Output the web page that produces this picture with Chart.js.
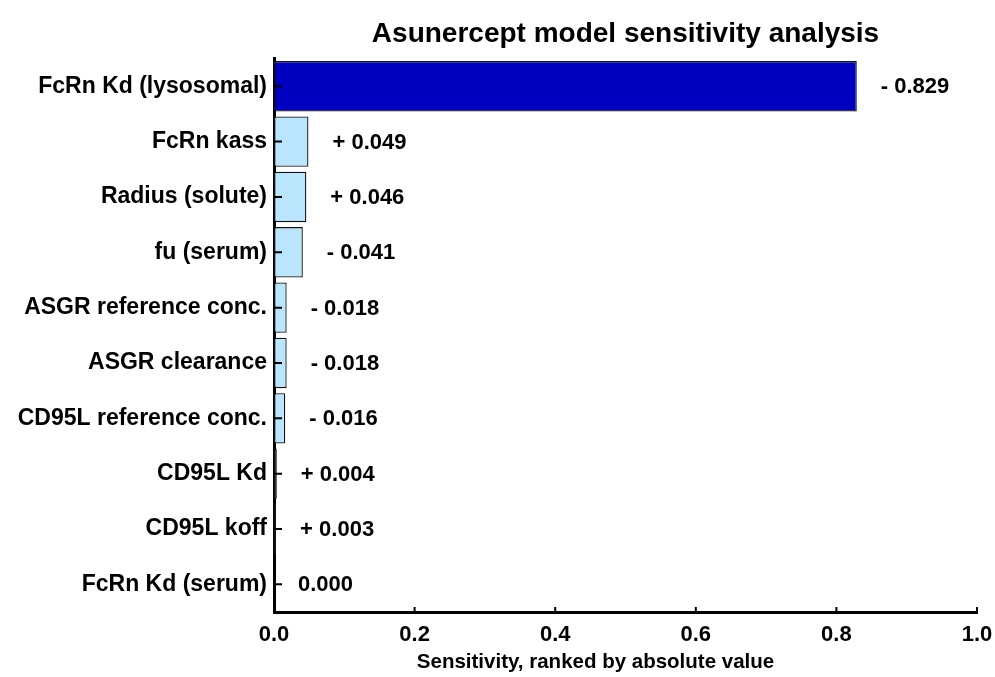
<!DOCTYPE html>
<html>
<head>
<meta charset="utf-8">
<title>Asunercept model sensitivity analysis</title>
<script src="https://cdn.jsdelivr.net/npm/chart.js@4.4.0/dist/chart.umd.min.js"></script>
<style>
  html, body { margin: 0; padding: 0; background: #fff; }
  #wrap { width: 995px; height: 677px; }
</style>
</head>
<body>
<div id="wrap"><canvas id="chart"></canvas></div>
<script>
// Data
const parameters = [
    'FcRn Kd (lysosomal)', 'FcRn kass', 'Radius (solute)', 'fu (serum)',
    'ASGR reference conc.', 'ASGR clearance', 'CD95L reference conc.',
    'CD95L Kd', 'CD95L koff', 'FcRn Kd (serum)'
];
const sensitivity = [-0.829, 0.049, 0.046, -0.041, -0.018, -0.018, -0.016, 0.004, 0.003, 0.000];
const xTicks = [0, 0.2, 0.4, 0.6, 0.8, 1.0];
const xTitle = 'Sensitivity, ranked by absolute value';

const FONT = "'Liberation Sans', Arial, sans-serif";

// bars are ranked by absolute value, the sign goes in the label
const magnitudes = sensitivity.map(v => Math.abs(v));
const barColors = magnitudes.map((v, i) => i === 0 ? '#0000C0' : '#B9E6FC');

function signedLabel(v) {
    if (v > 0) return '+ ' + v.toFixed(3);
    if (v < 0) return '- ' + Math.abs(v).toFixed(3);
    return v.toFixed(3);
}

// value labels to the right of each bar, plus the x axis title
const valueLabels = {
    id: 'valueLabels',
    afterDatasetsDraw(chart) {
        const ctx = chart.ctx;
        const x = chart.scales.x;
        const y = chart.scales.y;
        const area = chart.chartArea;
        ctx.save();
        ctx.font = 'bold 22px ' + FONT;
        ctx.fillStyle = '#000';
        ctx.textAlign = 'left';
        ctx.textBaseline = 'middle';
        sensitivity.forEach((v, i) => {
            ctx.fillText(signedLabel(v), x.getPixelForValue(Math.abs(v)) + 24, y.getPixelForValue(i) + 1);
        });
        // axis title sits a little left of the plot centre in the original
        ctx.font = 'bold 20.5px ' + FONT;
        ctx.textAlign = 'center';
        ctx.fillText(xTitle, (area.left + area.right) / 2 - 30, area.bottom + 50);
        ctx.restore();
    }
};

// small tick marks pointing into the plot
const innerTicks = {
    id: 'innerTicks',
    afterDraw(chart) {
        const ctx = chart.ctx;
        const x = chart.scales.x;
        const y = chart.scales.y;
        const area = chart.chartArea;
        ctx.save();
        ctx.strokeStyle = '#000';
        ctx.lineWidth = 2;
        ctx.beginPath();
        y.ticks.forEach((t, i) => {
            const py = y.getPixelForTick(i);
            ctx.moveTo(area.left, py);
            ctx.lineTo(area.left + 8, py);
        });
        xTicks.forEach(v => {
            const px = x.getPixelForValue(v);
            ctx.moveTo(px, area.bottom);
            ctx.lineTo(px, area.bottom - 5);
        });
        ctx.stroke();
        ctx.restore();
    }
};

const ctx = document.getElementById('chart').getContext('2d');
new Chart(ctx, {
    type: 'bar',
    data: {
        labels: parameters,
        datasets: [{
            data: magnitudes,
            backgroundColor: barColors,
            borderColor: '#111',
            borderWidth: 1.3,
            borderSkipped: false,
            categoryPercentage: 1.0,
            barPercentage: 0.91
        }]
    },
    options: {
        indexAxis: 'y',
        responsive: true,
        maintainAspectRatio: false,
        animation: false,
        layout: { padding: { left: 0, right: 18, top: 0, bottom: 0 } },
        plugins: {
            legend: { display: false },
            tooltip: { enabled: false },
            title: {
                display: true,
                fullSize: false,
                text: 'Asunercept model sensitivity analysis',
                color: '#000',
                font: { family: FONT, size: 28, weight: 'bold' },
                padding: { top: 17, bottom: 8 }
            }
        },
        scales: {
            x: {
                min: 0,
                max: 1,
                afterBuildTicks(scale) {
                    scale.ticks = xTicks.map(v => ({ value: v }));
                },
                afterFit(scale) {
                    scale.height = 65;
                    scale.paddingRight = 0;
                },
                grid: { display: false, drawTicks: false },
                border: { display: true, color: '#000', width: 3 },
                ticks: {
                    color: '#000',
                    padding: 10,
                    font: { family: FONT, size: 22, weight: 'bold' },
                    callback: v => Number(v).toFixed(1)
                }
            },
            y: {
                afterFit(scale) { scale.width = 274; },
                grid: { display: false, drawTicks: false },
                border: { display: true, color: '#000', width: 3 },
                ticks: {
                    color: '#000',
                    padding: 7,
                    font: { family: FONT, size: 23, weight: 'bold' }
                }
            }
        }
    },
    plugins: [valueLabels, innerTicks]
});
</script>
</body>
</html>
